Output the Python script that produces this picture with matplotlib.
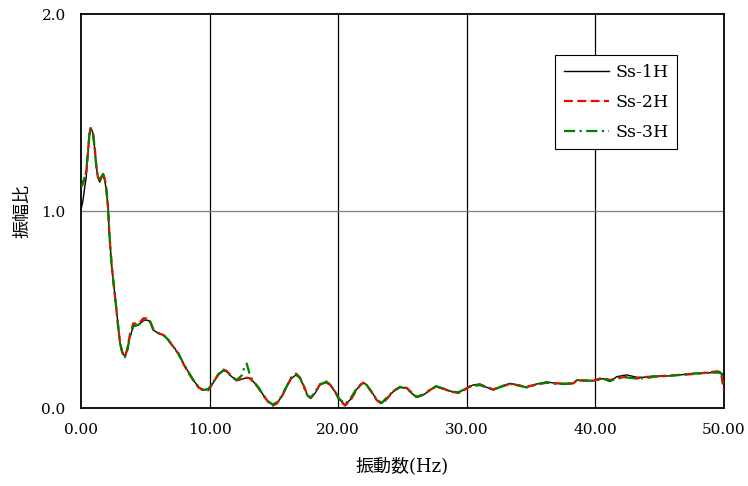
import matplotlib
matplotlib.use('Agg')
import matplotlib.pyplot as plt
from matplotlib.ticker import FormatStrFormatter

# 周波数 (Hz)
freq = [0.00, 0.16, 0.29, 0.41, 0.54, 0.68, 0.75, 0.93, 1.07, 1.19,
        1.32, 1.45, 1.71, 1.84, 1.97, 2.10, 2.20, 2.39, 2.57, 2.78,
        2.90, 3.03, 3.24, 3.42, 3.60, 3.81, 4.07, 4.46, 4.84, 5.11,
        5.37, 5.62, 6.01, 6.40, 6.79, 7.18, 7.57, 7.95, 8.34, 8.73,
        9.12, 9.51, 9.90, 10.29, 10.68, 11.07, 11.33, 11.72, 12.11, 12.50,
        12.70, 12.89, 13.14, 13.40, 13.79, 14.18, 14.56, 14.91, 15.22, 15.61,
        16.00, 16.38, 16.72, 17.03, 17.34, 17.60, 17.86, 18.20, 18.58, 19.05,
        19.36, 19.75, 20.01, 20.14, 20.53, 20.92, 21.31, 21.70, 21.95, 22.22,
        22.60, 22.99, 23.38, 23.77, 24.28, 24.81, 25.33, 25.71, 26.10, 26.62,
        27.14, 27.60, 28.17, 28.69, 29.34, 29.73, 30.12, 30.51, 31.03, 31.55,
        32.06, 32.58, 33.36, 34.00, 34.66, 35.44, 36.21, 36.99, 37.77, 38.28,
        38.55, 39.32, 39.84, 40.36, 40.61, 41.14, 41.66, 42.43, 43.21, 43.99,
        44.50, 45.54, 46.58, 47.61, 48.65, 49.43, 49.69, 49.82, 49.90, 50.00]

# Ss-1H
amp1 = [1.005, 1.056, 1.122, 1.173, 1.294, 1.401, 1.421, 1.396, 1.310, 1.223,
        1.168, 1.147, 1.183, 1.157, 1.107, 1.020, 0.888, 0.716, 0.614, 0.482,
        0.411, 0.335, 0.279, 0.260, 0.294, 0.362, 0.413, 0.421, 0.443, 0.447,
        0.438, 0.396, 0.379, 0.371, 0.345, 0.311, 0.278, 0.227, 0.184, 0.142,
        0.108, 0.091, 0.095, 0.129, 0.168, 0.189, 0.184, 0.159, 0.139, 0.146,
        0.150, 0.154, 0.151, 0.134, 0.105, 0.066, 0.032, 0.015, 0.024, 0.057,
        0.108, 0.151, 0.168, 0.151, 0.108, 0.066, 0.049, 0.075, 0.117, 0.130,
        0.117, 0.083, 0.049, 0.041, 0.015, 0.041, 0.083, 0.117, 0.130, 0.117,
        0.083, 0.041, 0.024, 0.049, 0.083, 0.105, 0.100, 0.075, 0.054, 0.066,
        0.091, 0.112, 0.100, 0.086, 0.078, 0.091, 0.108, 0.117, 0.122, 0.105,
        0.091, 0.108, 0.125, 0.117, 0.105, 0.122, 0.132, 0.125, 0.125, 0.125,
        0.142, 0.139, 0.139, 0.146, 0.149, 0.134, 0.159, 0.168, 0.156, 0.156,
        0.162, 0.162, 0.168, 0.176, 0.179, 0.179, 0.178, 0.176, 0.172, 0.170]

# Ss-2H
amp2 = [1.120, 1.140, 1.170, 1.200, 1.300, 1.400, 1.420, 1.400, 1.320, 1.230,
        1.170, 1.160, 1.190, 1.165, 1.110, 1.020, 0.890, 0.720, 0.610, 0.480,
        0.410, 0.330, 0.275, 0.262, 0.300, 0.375, 0.430, 0.425, 0.455, 0.455,
        0.440, 0.400, 0.380, 0.370, 0.345, 0.310, 0.275, 0.225, 0.180, 0.140,
        0.105, 0.088, 0.090, 0.130, 0.172, 0.195, 0.188, 0.160, 0.140, 0.148,
        0.150, 0.154, 0.150, 0.132, 0.102, 0.063, 0.030, 0.012, 0.022, 0.058,
        0.110, 0.158, 0.175, 0.155, 0.110, 0.066, 0.050, 0.078, 0.120, 0.135,
        0.120, 0.085, 0.050, 0.040, 0.012, 0.035, 0.078, 0.115, 0.128, 0.115,
        0.080, 0.040, 0.020, 0.045, 0.085, 0.108, 0.102, 0.078, 0.056, 0.068,
        0.092, 0.108, 0.098, 0.084, 0.076, 0.088, 0.105, 0.114, 0.118, 0.108,
        0.094, 0.108, 0.122, 0.115, 0.108, 0.120, 0.128, 0.125, 0.122, 0.125,
        0.140, 0.138, 0.138, 0.150, 0.152, 0.142, 0.152, 0.158, 0.150, 0.158,
        0.160, 0.164, 0.168, 0.172, 0.180, 0.186, 0.184, 0.160, 0.120, 0.090]

# Ss-3H
amp3 = [1.120, 1.145, 1.175, 1.205, 1.305, 1.405, 1.420, 1.395, 1.315, 1.225,
        1.172, 1.160, 1.188, 1.165, 1.112, 1.022, 0.892, 0.718, 0.612, 0.480,
        0.408, 0.330, 0.272, 0.258, 0.292, 0.365, 0.418, 0.422, 0.448, 0.450,
        0.440, 0.398, 0.380, 0.372, 0.346, 0.312, 0.278, 0.228, 0.184, 0.143,
        0.110, 0.092, 0.096, 0.132, 0.170, 0.192, 0.186, 0.158, 0.142, 0.165,
        0.205, 0.225, 0.165, 0.136, 0.106, 0.066, 0.034, 0.018, 0.028, 0.062,
        0.112, 0.155, 0.170, 0.152, 0.106, 0.064, 0.052, 0.080, 0.120, 0.132,
        0.118, 0.086, 0.054, 0.044, 0.020, 0.045, 0.086, 0.116, 0.128, 0.116,
        0.082, 0.044, 0.026, 0.052, 0.086, 0.106, 0.100, 0.076, 0.056, 0.068,
        0.090, 0.110, 0.098, 0.085, 0.080, 0.092, 0.106, 0.114, 0.116, 0.104,
        0.092, 0.106, 0.122, 0.114, 0.104, 0.120, 0.130, 0.122, 0.122, 0.126,
        0.140, 0.140, 0.138, 0.145, 0.148, 0.138, 0.150, 0.155, 0.150, 0.152,
        0.158, 0.162, 0.168, 0.174, 0.178, 0.182, 0.182, 0.170, 0.140, 0.110]

x_ticks = [0, 10, 20, 30, 40, 50]
y_ticks = [0.0, 1.0, 2.0]

serif = ['DejaVu Serif', 'Noto Sans CJK JP']
cjk = ['Noto Sans CJK JP', 'DejaVu Serif']

fig = plt.figure(figsize=(7.48, 4.86), dpi=100)
ax = fig.add_axes([81/748, 78/486, 643/748, 394/486])

ax.plot(freq, amp1, color='black', lw=1.0, label='Ss-1H', zorder=3)
ax.plot(freq, amp2, color='red', lw=1.6, ls=(0, (4, 2)), label='Ss-2H', zorder=4)
ax.plot(freq, amp3, color='green', lw=1.6, ls=(0, (5, 2, 1, 2)), label='Ss-3H', zorder=5)

ax.set_xlim(0, 50)
ax.set_ylim(0, 2)
ax.set_xticks(x_ticks)
ax.set_yticks(y_ticks)
ax.xaxis.set_major_formatter(FormatStrFormatter('%.2f'))
ax.yaxis.set_major_formatter(FormatStrFormatter('%.1f'))
ax.tick_params(length=0, pad=11, labelsize=11)
for lab in ax.get_xticklabels() + ax.get_yticklabels():
    lab.set_family(serif)

for xv in x_ticks[1:-1]:
    ax.axvline(xv, color='black', lw=0.9, zorder=1)
ax.axhline(1.0, color='#808080', lw=0.9, zorder=1)

for s in ax.spines.values():
    s.set_linewidth(1.3)

ax.set_xlabel('振動数(Hz)', family=serif, fontsize=13, labelpad=14)
ax.set_ylabel('振幅比', family=cjk, fontsize=13, labelpad=7)

leg = ax.legend(loc='upper right', bbox_to_anchor=(0.927, 0.896), borderaxespad=0,
                fancybox=False, framealpha=1, edgecolor='black', handlelength=2.6,
                handletextpad=0.35, labelspacing=0.75, borderpad=0.5,
                prop={'family': 'DejaVu Serif', 'size': 12.5})
leg.get_frame().set_linewidth(0.8)
leg.set_zorder(10)

fig.savefig('out.png', dpi=100)
